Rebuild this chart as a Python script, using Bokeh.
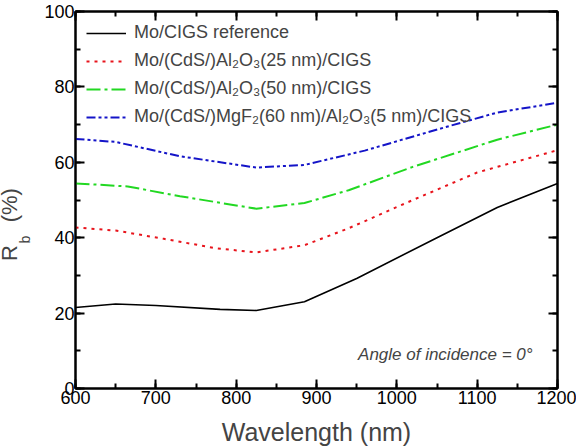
import numpy as np
from bokeh.plotting import figure
from bokeh.models import Range1d, LinearAxis, Label, Legend, LegendItem, SingleIntervalTicker
from bokeh.embed import file_html
from bokeh.resources import INLINE

FONT = "Liberation Sans"

# ---- data ----
wl_ref = [600, 650, 700, 780, 825, 885, 950, 1050, 1125, 1200]
rb_ref = [21.5, 22.4, 22.0, 21.0, 20.7, 23.0, 29.2, 40.0, 48.0, 54.4]

wl_al25 = [600, 650, 710, 775, 825, 885, 940, 1020, 1100, 1200]
rb_al25 = [42.7, 41.9, 39.7, 37.2, 36.1, 38.0, 42.5, 50.0, 57.3, 63.2]

wl_al50 = [600, 665, 730, 825, 885, 940, 1020, 1125, 1200]
rb_al50 = [54.4, 53.6, 51.0, 47.7, 49.2, 52.6, 58.8, 66.0, 70.0]

wl_mgf = [600, 650, 730, 825, 885, 960, 1060, 1125, 1200]
rb_mgf = [66.2, 65.4, 61.6, 58.6, 59.3, 63.1, 69.3, 73.2, 75.8]

labels = [
    "Mo/CIGS reference",
    "Mo/(CdS/)Al\u2082O\u2083(25 nm)/CIGS",
    "Mo/(CdS/)Al\u2082O\u2083(50 nm)/CIGS",
    "Mo/(CdS/)MgF\u2082(60 nm)/Al\u2082O\u2083(5 nm)/CIGS",
]

p = figure(width=576, height=448, output_backend="svg", toolbar_location=None,
           x_range=Range1d(600, 1200), y_range=Range1d(0, 100),
           min_border_left=73, min_border_right=19, min_border_top=11, min_border_bottom=59)
p.xgrid.visible = False
p.ygrid.visible = False
p.outline_line_color = "black"
p.outline_line_width = 2
p.background_fill_color = "white"
p.border_fill_color = "white"

r1 = p.line(wl_ref, rb_ref, line_color="black", line_width=1.6)
r2 = p.line(wl_al25, rb_al25, line_color="#e8141c", line_width=2, line_dash="3 5")
r3 = p.line(wl_al50, rb_al50, line_color="#22d822", line_width=2, line_dash="14 4 3 4")
r4 = p.line(wl_mgf, rb_mgf, line_color="#1414c8", line_width=2, line_dash="9 3 3 3 3 3")

def style(ax, show_labels=True):
    ax.axis_line_width = 2
    ax.major_tick_line_width = 2
    ax.minor_tick_line_width = 2
    ax.major_tick_in = 9
    ax.major_tick_out = 0
    ax.minor_tick_in = 5
    ax.minor_tick_out = 0
    ax.major_label_text_font = FONT
    ax.major_label_text_font_size = "18px" if show_labels else "0px"
    ax.major_label_text_color = "black"
    ax.axis_label_text_font = FONT
    ax.axis_label_text_font_style = "normal"

p.xaxis.ticker = SingleIntervalTicker(interval=100, num_minor_ticks=2)
p.yaxis.ticker = SingleIntervalTicker(interval=20, num_minor_ticks=2)
for ax in p.xaxis:
    style(ax)
    ax.major_label_standoff = 2
    ax.axis_label = "Wavelength (nm)"
    ax.axis_label_text_font_size = "25px"
    ax.axis_label_standoff = 11
for ax in p.yaxis:
    style(ax)
    ax.major_label_standoff = 1

top = LinearAxis(ticker=SingleIntervalTicker(interval=100, num_minor_ticks=2))
style(top, False)
top.major_label_standoff = 0
p.add_layout(top, "above")
right = LinearAxis(ticker=SingleIntervalTicker(interval=20, num_minor_ticks=2))
style(right, False)
right.major_label_standoff = 0
p.add_layout(right, "right")

# y axis label: R_b (%) placed in the left side panels (screen units)
yl_b = Label(x=-1, y=145, x_units="screen", y_units="screen", text="b", angle=np.pi / 2,
             text_font=FONT, text_font_size="14px", text_align="left", text_baseline="alphabetic")
yl_R = Label(x=9, y=127.5, x_units="screen", y_units="screen",
             text="R\u00a0\u00a0\u00a0\u2009(%)", angle=np.pi / 2,
             text_font=FONT, text_font_size="22px", text_align="left", text_baseline="alphabetic")
p.add_layout(yl_b, "left")
p.add_layout(yl_R, "left")

p.add_layout(Label(x=1169, y=9.0, text="Angle of incidence = 0\u00b0", text_font=FONT,
                   text_font_size="17px", text_font_style="italic",
                   text_align="right", text_baseline="middle"))

legend = Legend(items=[LegendItem(label=labels[0], renderers=[r1]),
                       LegendItem(label=labels[1], renderers=[r2]),
                       LegendItem(label=labels[2], renderers=[r3]),
                       LegendItem(label=labels[3], renderers=[r4])],
                location="top_left")
legend.border_line_color = None
legend.background_fill_alpha = 0
legend.label_text_font = FONT
legend.label_text_font_size = "18px"
legend.glyph_width = 40
legend.glyph_height = 20
legend.label_height = 20
legend.spacing = 7
legend.margin = 11
legend.padding = 8
legend.label_standoff = 8
p.add_layout(legend, "center")

open("out.html", "w").write(file_html(p, INLINE))
